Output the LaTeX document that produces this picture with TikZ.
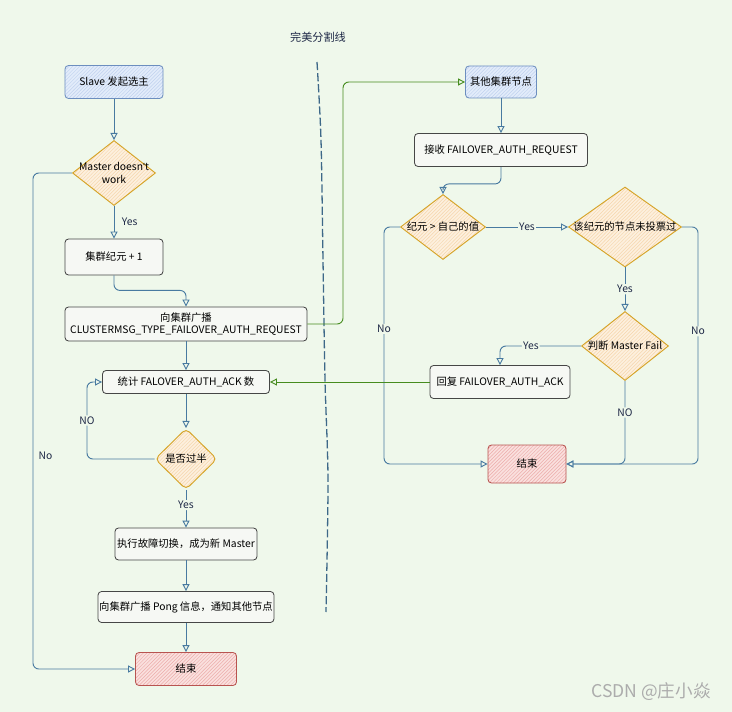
\documentclass[tikz,border=0pt]{standalone}
\usepackage{fontspec}
\setmainfont{Noto Sans CJK SC}
\newfontfamily\aposfont{Liberation Sans}
\usetikzlibrary{arrows.meta,shapes.geometric,patterns}
\definecolor{bgc}{RGB}{239,248,235}
\definecolor{lnc}{RGB}{72,122,160}
\definecolor{grn}{RGB}{70,140,30}
\definecolor{bluef}{RGB}{226,236,250}
\definecolor{blueh}{RGB}{192,210,238}
\definecolor{blued}{RGB}{108,142,191}
\definecolor{oraf}{RGB}{253,240,222}
\definecolor{orah}{RGB}{245,214,172}
\definecolor{orad}{RGB}{214,164,40}
\definecolor{redf}{RGB}{250,224,222}
\definecolor{redh}{RGB}{236,172,170}
\definecolor{redd}{RGB}{184,84,80}
\definecolor{grayd}{RGB}{70,70,70}
\definecolor{grayf}{RGB}{246,248,244}
\definecolor{txt}{RGB}{30,40,70}
\begin{document}
\begin{tikzpicture}[x=0.03cm, y=-0.03cm, font=\fontsize{8.8}{10.5}\selectfont,
  shape base/.style={rounded corners=3pt, line width=0.7pt, align=center, inner sep=1pt},
  box/.style={shape base, draw=grayd, fill=grayf},
  startbox/.style={shape base, draw=blued, preaction={fill=bluef}, pattern=north east lines, pattern color=blueh},
  endbox/.style={shape base, draw=redd, preaction={fill=redf}, pattern=north east lines, pattern color=redh},
  decide/.style={diamond, draw=orad, line width=0.8pt, inner sep=0pt, preaction={fill=oraf}, pattern=north east lines, pattern color=orah},
  flow/.style={draw=lnc, line width=0.8pt, rounded corners=5pt, -{Triangle[open,length=6pt,width=6pt]}},
  gflow/.style={flow, draw=grn},
  lab/.style={fill=bgc, text=txt, inner sep=1pt},
  divider/.style={draw=lnc!85!black, line width=1.1pt, dash pattern=on 7pt off 2.5pt}]
  \fill[bgc] (0,0) rectangle (732,712);
  \useasboundingbox (0,0) rectangle (732,712);

  \node[text=txt, font=\fontsize{9.5}{11}\selectfont] (title) at (318,37) {完美分割线};
  \draw[divider] plot[smooth] coordinates {(317,62) (321,140) (323,260) (325,380) (328,480) (326,612)};

  % left side
  \node[startbox, minimum width=2.94cm, minimum height=0.99cm] (slave) at (114,82) {Slave 发起选主};
  \node[decide, minimum width=2.49cm, minimum height=1.95cm, label={[align=center]center:Master doesn{\aposfont'}t\\work}] (mw) at (114,173) {};
  \node[box, minimum width=2.94cm, minimum height=1.08cm] (epoch) at (114,257) {集群纪元 + 1};
  \node[box, minimum width=7.26cm, minimum height=1.02cm] (bcast) at (186,324) {向集群广播\\CLUSTERMSG\_TYPE\_FAILOVER\_AUTH\_REQUEST};
  \node[box, minimum width=5.01cm, minimum height=0.69cm] (stat) at (186,382) {统计 FALOVER\_AUTH\_ACK 数};
  \node[decide, rounded corners=4pt, minimum width=1.86cm, minimum height=1.83cm, label=center:是否过半] (half) at (186,459) {};
  \node[box, minimum width=4.26cm, minimum height=0.96cm] (exec) at (186,544) {执行故障切换，成为新 Master};
  \node[box, minimum width=5.16cm, minimum height=0.93cm] (pong) at (186,607) {向集群广播 Pong 信息，通知其他节点};
  \node[endbox, minimum width=3.03cm, minimum height=0.99cm] (endl) at (186,669) {结束};

  % right side
  \node[startbox, minimum width=2.13cm, minimum height=0.96cm] (other) at (501,82) {其他集群节点};
  \node[box, minimum width=5.19cm, minimum height=0.99cm] (recv) at (501,150) {接收 FAILOVER\_AUTH\_REQUEST};
  \node[decide, minimum width=2.55cm, minimum height=1.95cm, label=center:纪元 > 自己的值] (epo) at (443,227) {};
  \node[decide, minimum width=3.39cm, minimum height=2.4cm, label=center:该纪元的节点未投票过] (vote) at (625,227) {};
  \node[decide, minimum width=2.61cm, minimum height=2.07cm, label=center:判断 Master Fail] (judge) at (625,346) {};
  \node[box, minimum width=4.2cm, minimum height=0.99cm] (reply) at (500,382) {回复 FAILOVER\_AUTH\_ACK};
  \node[endbox, minimum width=2.34cm, minimum height=1.14cm] (endr) at (527,464) {结束};

  \node[text=gray!65, font=\fontsize{15}{17}\selectfont] (mark) at (651,692) {CSDN @庄小焱};

  \draw[flow] (slave) -- (mw);
  \draw[flow] (mw) -- node[right=3pt, text=txt]{Yes} (epoch);
  \draw[flow] (mw.west) -- (33,173) -- node[right=1pt, text=txt, pos=0.57]{No} (33,669) -- (endl.west);
  \draw[flow] (epoch.south) -- ++(0,15) -| (bcast.north);
  \draw[flow] (bcast) -- (stat);
  \draw[gflow] (bcast.east) -- (343,324) -- (343,82) -- (other.west);
  \draw[flow] (stat) -- (half);
  \draw[flow] (half.west) -- (87,459) -- node[lab]{NO} (87,382) -- (stat.west);
  \draw[flow] (half) -- node[lab, pos=0.4]{Yes} (exec);
  \draw[flow] (exec) -- (pong);
  \draw[flow] (pong) -- (endl);

  \draw[flow] (other) -- (recv);
  \draw[flow] (recv.south) -- ++(0,17) -| (epo.north);
  \draw[flow] (epo.east) -- node[lab]{Yes} (vote.west);
  \draw[flow] (epo.west) -- (384,227) -- node[lab, pos=0.43]{No} (384,464) -- (endr.west);
  \draw[flow] (vote.east) -- (698,227) -- node[lab, pos=0.44]{No} (698,464) -- (endr.east);
  \draw[flow] (vote) -- node[lab]{Yes} (judge);
  \draw[flow] (judge.west) -| node[lab, pos=0.31]{Yes} (reply.north);
  \draw[flow] (judge.south) |- node[lab, pos=0.19]{NO} (endr.east);
  \draw[gflow] (reply.west) -- (stat.east);
\end{tikzpicture}
\end{document}
